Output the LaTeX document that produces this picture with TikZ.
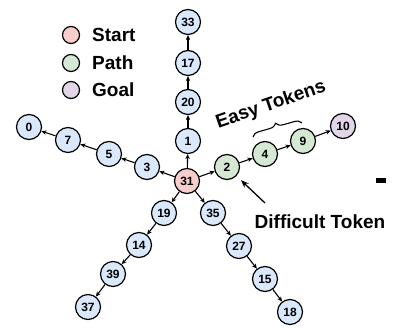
\documentclass[tikz,border=0pt]{standalone}
\usepackage{fontspec}
\setmainfont{Liberation Sans}
\usetikzlibrary{arrows.meta,decorations.pathreplacing}
\definecolor{tokblue}{HTML}{DAE8FC}
\definecolor{tokgreen}{HTML}{D5E8D4}
\definecolor{tokred}{HTML}{F8CECC}
\definecolor{tokpurple}{HTML}{E1D5E7}
\tikzstyle{tok}=[circle,draw,line width=1.2pt,minimum size=25pt,inner sep=0pt,font=\fontsize{12}{12}\selectfont\bfseries]
\tikzstyle{lgd}=[circle,draw,line width=1.2pt,minimum size=17pt,inner sep=0pt]
\tikzstyle{lbl}=[font=\fontsize{19}{19}\selectfont\bfseries,inner sep=0pt]
\tikzstyle{nxt}=[-{Stealth[length=5pt,width=4.5pt]},line width=1.1pt]
\tikzstyle{callout}=[-{Stealth[length=8pt,width=6pt]},line width=1.3pt]

\begin{document}
\begin{tikzpicture}[x=1pt,y=-1pt]
\useasboundingbox (0,0) rectangle (394,327);

% legend
\node (ls) at (71, 35) [lgd, fill=tokred] {};
\node (lp) at (71, 63) [lgd, fill=tokgreen] {};
\node (lg) at (71, 90) [lgd, fill=tokpurple] {};
\node (lst) at (92, 35) [lbl, anchor=west] {Start};
\node (lpt) at (92, 63) [lbl, anchor=west] {Path};
\node (lgt) at (92, 90) [lbl, anchor=west] {Goal};

% start
\node (n31) at (187, 181) [tok, fill=tokred] {31};

% up
\node (n1) at (188, 141) [tok, fill=tokblue] {1};
\node (n20) at (188, 102) [tok, fill=tokblue] {20};
\node (n17) at (188, 63) [tok, fill=tokblue] {17};
\node (n33) at (188, 22) [tok, fill=tokblue] {33};

% left
\node (n3) at (147, 167) [tok, fill=tokblue] {3};
\node (n5) at (109, 154) [tok, fill=tokblue] {5};
\node (n7) at (68, 140) [tok, fill=tokblue] {7};
\node (n0) at (29, 127) [tok, fill=tokblue] {0};

% path to goal
\node (n2) at (227, 167) [tok, fill=tokgreen] {2};
\node (n4) at (265, 154) [tok, fill=tokgreen] {4};
\node (n9) at (303, 141) [tok, fill=tokgreen] {9};
\node (n10) at (343, 126) [tok, fill=tokpurple] {10};

% down left
\node (n19) at (164, 213) [tok, fill=tokblue] {19};
\node (n14) at (139, 245) [tok, fill=tokblue] {14};
\node (n39) at (113, 274) [tok, fill=tokblue] {39};
\node (n37) at (88, 307) [tok, fill=tokblue] {37};

% down right
\node (n35) at (213, 213) [tok, fill=tokblue] {35};
\node (n27) at (239, 246) [tok, fill=tokblue] {27};
\node (n15) at (265, 279) [tok, fill=tokblue] {15};
\node (n18) at (290, 312) [tok, fill=tokblue] {18};

\draw (n31) -- (n1) [nxt];
\draw (n1) -- (n20) [nxt];
\draw (n20) -- (n17) [nxt];
\draw (n17) -- (n33) [nxt];

\draw (n31) -- (n3) [nxt];
\draw (n3) -- (n5) [nxt];
\draw (n5) -- (n7) [nxt];
\draw (n7) -- (n0) [nxt];

\draw (n31) -- (n2) [nxt];
\draw (n2) -- (n4) [nxt];
\draw (n4) -- (n9) [nxt];
\draw (n9) -- (n10) [nxt];

\draw (n31) -- (n19) [nxt];
\draw (n19) -- (n14) [nxt];
\draw (n14) -- (n39) [nxt];
\draw (n39) -- (n37) [nxt];

\draw (n31) -- (n35) [nxt];
\draw (n35) -- (n27) [nxt];
\draw (n27) -- (n15) [nxt];
\draw (n15) -- (n18) [nxt];

% annotations
\coordinate (bl) at (253, 137);
\coordinate (br) at (302, 123);
\draw [decorate, decoration={brace, amplitude=7pt}, line width=1.1pt] (bl) -- (br);
\node (easy) at (271, 105) [lbl, rotate=19] {Easy Tokens};

\node (hard) at (320, 222) [lbl] {Difficult Token};
\coordinate (ht) at (265, 203);
\draw (ht) -- (n2) [callout, shorten >=6pt];

\fill (376, 178) rectangle (386, 183);
\end{tikzpicture}
\end{document}
